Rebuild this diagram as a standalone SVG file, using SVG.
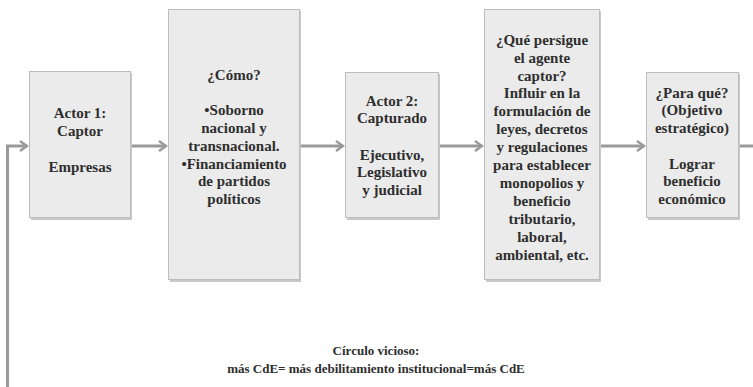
<svg xmlns="http://www.w3.org/2000/svg" width="753" height="387" viewBox="0 0 753 387">
<style>
.box{fill:#ebebeb;stroke:#bdbdbd;stroke-width:1}
.sh{fill:#c8c8c8}
.t{font-family:"Liberation Serif",serif;font-weight:bold;font-size:15px;fill:#2e2e2e;text-anchor:middle}
.b{font-family:"Liberation Serif",serif;font-weight:bold;font-size:13px;fill:#2e2e2e;text-anchor:middle}
.c{fill:none;stroke:#9a9a9a;stroke-width:3}
</style>
<defs>
<marker id="ah" viewBox="0 0 10 12" refX="8" refY="6" markerWidth="10" markerHeight="12" markerUnits="userSpaceOnUse" orient="auto">
<path d="M1,1 L8,6 L1,11" fill="none" stroke="#9a9a9a" stroke-width="2.5"/>
</marker>
</defs>
<rect width="753" height="387" fill="#ffffff"/>
<g id="connectors">
<line class="c" x1="131" y1="146" x2="166" y2="146" marker-end="url(#ah)"/>
<line class="c" x1="300" y1="146" x2="343" y2="146" marker-end="url(#ah)"/>
<line class="c" x1="439" y1="146" x2="482" y2="146" marker-end="url(#ah)"/>
<line class="c" x1="600" y1="146" x2="644" y2="146" marker-end="url(#ah)"/>
<line class="c" x1="739" y1="146" x2="753" y2="146"/>
<path class="c" d="M7.5,387 V146 H27" marker-end="url(#ah)"/>
</g>
<g id="actor1">
<rect class="sh" x="31" y="73" width="101" height="147"/>
<rect class="box" x="29.5" y="71.5" width="101" height="146"/>
<text class="t" x="80" y="118">Actor 1:</text>
<text class="t" x="80" y="136">Captor</text>
<text class="t" x="80" y="172">Empresas</text>
</g>
<g id="como">
<rect class="sh" x="170" y="11" width="131" height="271"/>
<rect class="box" x="168.5" y="9.5" width="131" height="270"/>
<text class="t" x="234" y="80">¿Cómo?</text>
<text class="t" x="234" y="115">•Soborno</text>
<text class="t" x="234" y="133">nacional y</text>
<text class="t" x="234" y="151">transnacional.</text>
<text class="t" x="234" y="169">•Financiamiento</text>
<text class="t" x="234" y="186">de partidos</text>
<text class="t" x="234" y="204">políticos</text>
</g>
<g id="actor2">
<rect class="sh" x="347" y="74" width="93" height="146"/>
<rect class="box" x="345.5" y="72.5" width="93" height="145"/>
<text class="t" x="392" y="106">Actor 2:</text>
<text class="t" x="392" y="123">Capturado</text>
<text class="t" x="392" y="160">Ejecutivo,</text>
<text class="t" x="392" y="177">Legislativo</text>
<text class="t" x="392" y="195">y judicial</text>
</g>
<g id="persigue">
<rect class="sh" x="486" y="11" width="115" height="271"/>
<rect class="box" x="484.5" y="9.5" width="115" height="270"/>
<text class="t" x="542" y="45">¿Qué persigue</text>
<text class="t" x="542" y="63">el agente</text>
<text class="t" x="542" y="81">captor?</text>
<text class="t" x="542" y="98">Influir en la</text>
<text class="t" x="542" y="116">formulación de</text>
<text class="t" x="542" y="134">leyes, decretos</text>
<text class="t" x="542" y="152">y regulaciones</text>
<text class="t" x="542" y="170">para establecer</text>
<text class="t" x="542" y="188">monopolios y</text>
<text class="t" x="542" y="206">beneficio</text>
<text class="t" x="542" y="224">tributario,</text>
<text class="t" x="542" y="242">laboral,</text>
<text class="t" x="542" y="260">ambiental, etc.</text>
</g>
<g id="paraque">
<rect class="sh" x="648" y="74" width="92" height="146"/>
<rect class="box" x="646.5" y="72.5" width="92" height="145"/>
<text class="t" x="692" y="98">¿Para qué?</text>
<text class="t" x="692" y="115">(Objetivo</text>
<text class="t" x="692" y="133">estratégico)</text>
<text class="t" x="692" y="169">Lograr</text>
<text class="t" x="692" y="186">beneficio</text>
<text class="t" x="692" y="204">económico</text>
</g>
<g id="caption">
<text class="b" x="376" y="355">Círculo vicioso:</text>
<text class="b" x="376" y="373">más CdE= más debilitamiento institucional=más CdE</text>
</g>
</svg>
